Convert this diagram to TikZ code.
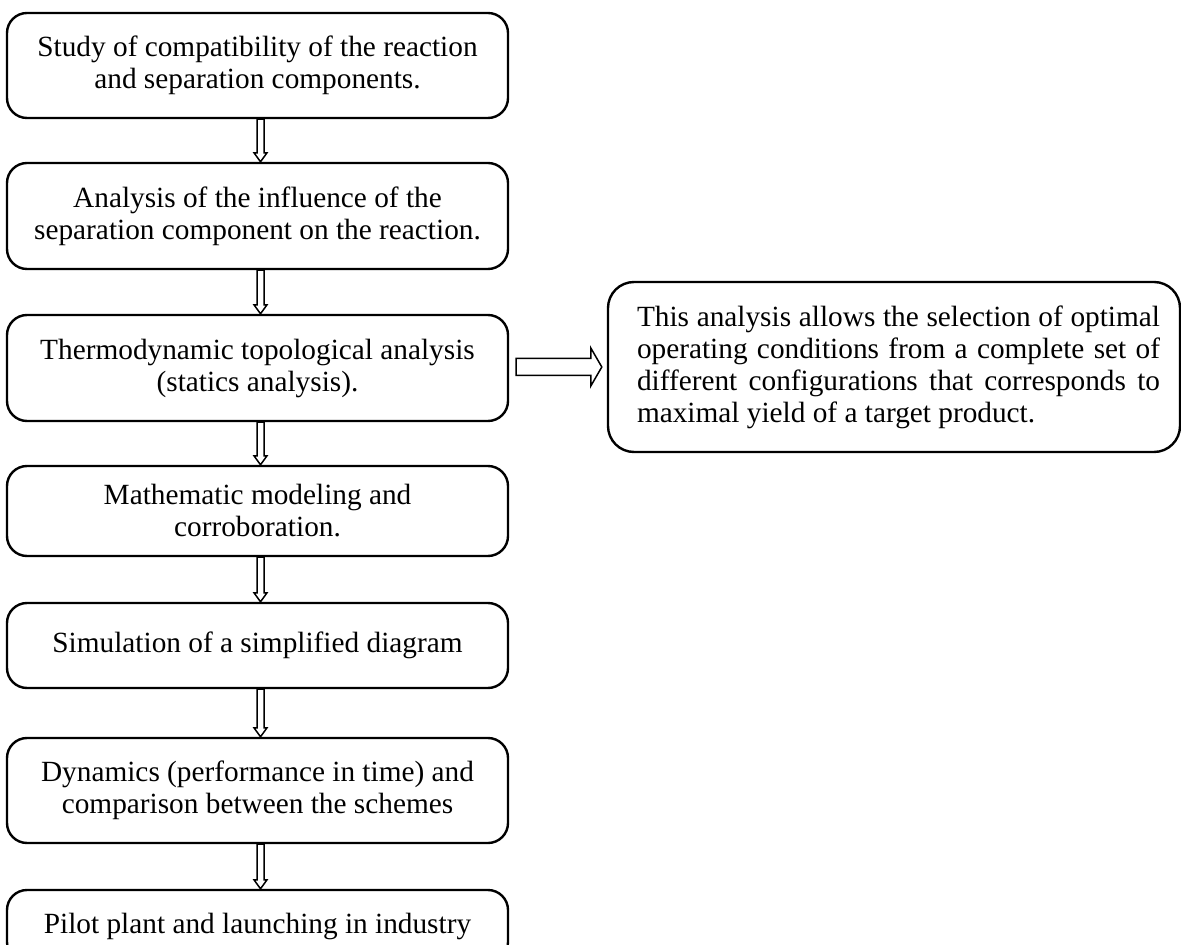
\documentclass[tikz,border=0pt]{standalone}
\usepackage{fontspec}
\setmainfont{Liberation Serif}
\usetikzlibrary{calc}
\begin{document}
\begin{tikzpicture}[x=0.5pt,y=-0.5pt,
  textfont/.style={font=\fontsize{14.65pt}{16pt}\selectfont},
  stepbox/.style={draw, line width=1.2pt, rounded corners=10pt,
    minimum width=250.5pt, align=center, inner sep=0pt, textfont},
  notebox/.style={draw, line width=1.2pt, rounded corners=13pt,
    minimum height=85pt, inner xsep=10pt, inner ysep=0pt, textfont},
  downarrow/.style={line width=0.75pt, line join=miter,
    to path={let \p1=(\tikztostart), \p2=(\tikztotarget) in
      (\x1-1.75pt,\y1) -- (\x1-1.75pt,\y2+4.5pt) -- (\x1-3.25pt,\y2+4.5pt)
      -- (\x1,\y2) -- (\x1+3.25pt,\y2+4.5pt) -- (\x1+1.75pt,\y2+4.5pt)
      -- (\x1+1.75pt,\y1) -- cycle}},
  rightarrow/.style={line width=0.75pt, line join=miter,
    to path={let \p1=(\tikztostart), \p2=(\tikztotarget) in
      (\x1,\y1-4.25pt) -- (\x2-5.5pt,\y1-4.25pt) -- (\x2-5.5pt,\y1-9.5pt)
      -- (\x2,\y1) -- (\x2-5.5pt,\y1+9.5pt) -- (\x2-5.5pt,\y1+4.25pt)
      -- (\x1,\y1+4.25pt) -- cycle}}]

\useasboundingbox (0,0) rectangle (1181,945);
\fill[white] (0,0) rectangle (1181,945);
\clip (0,0) rectangle (1181,945);

% main sequence of steps
\node[stepbox, minimum height=52.5pt] (b1) at (257.5,65.5)
  {Study of compatibility of the reaction\\and separation components.};
\node[stepbox, minimum height=53pt] (b2) at (257.5,216)
  {Analysis of the influence of the\\separation component on the reaction.};
\node[stepbox, minimum height=53pt] (b3) at (257.5,368)
  {Thermodynamic topological analysis\\(statics analysis).};
\node[stepbox, minimum height=45pt] (b4) at (257.5,511)
  {Mathematic modeling and\\corroboration.};
\node[stepbox, minimum height=42.5pt] (b5) at (257.5,645.5)
  {Simulation of a simplified diagram};
\node[stepbox, minimum height=52.5pt] (b6) at (257.5,790.5)
  {Dynamics (performance in time) and\\comparison between the schemes};
\node[stepbox, minimum height=36pt] (b7) at (257.5,926)
  {Pilot plant and launching in industry};

% side note on the topological analysis
\node[notebox] (r) at (894,367)
  {\begin{minipage}{266pt}\leftskip=4.5pt\hyphenpenalty=10000\tolerance=5000
   This analysis allows the selection of optimal\linebreak
   operating conditions from a complete set of\linebreak
   different configurations that corresponds to\linebreak
   maximal yield of a target product.\end{minipage}};

% block arrows
\draw[downarrow] ([xshift=1.5pt]b1.south) to ([xshift=1.5pt]b2.north);
\draw[downarrow] ([xshift=1.5pt]b2.south) to ([xshift=1.5pt]b3.north);
\draw[downarrow] ([xshift=1.5pt]b3.south) to ([xshift=1.5pt]b4.north);
\draw[downarrow] ([xshift=1.5pt]b4.south) to ([xshift=1.5pt]b5.north);
\draw[downarrow] ([xshift=1.5pt]b5.south) to ([xshift=1.5pt]b6.north);
\draw[downarrow] ([xshift=1.5pt]b6.south) to ([xshift=1.5pt]b7.north);
\draw[rightarrow] ([xshift=3.5pt]b3.east |- r.west) to ([xshift=-2.5pt]r.west);
\end{tikzpicture}
\end{document}
